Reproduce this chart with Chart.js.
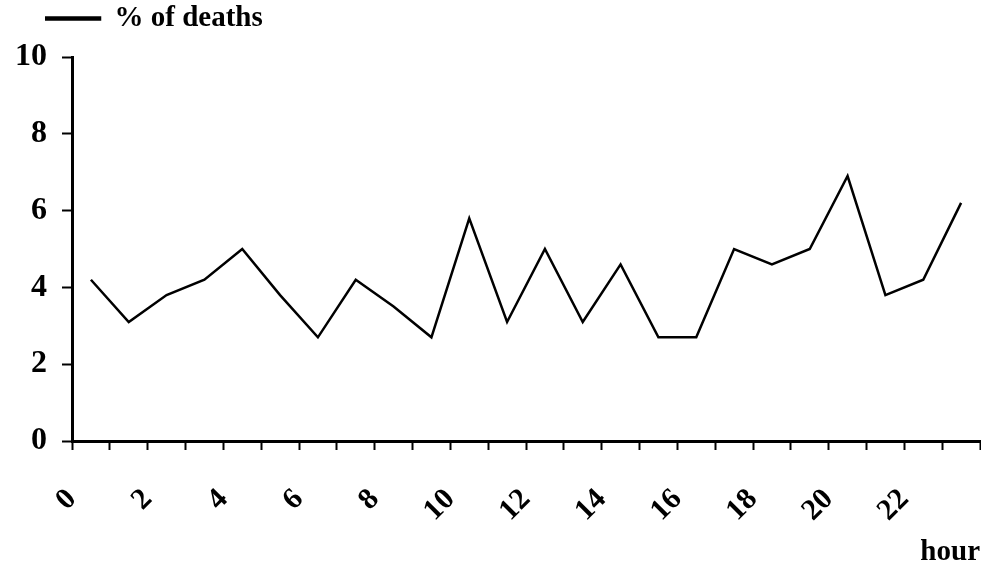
<!DOCTYPE html>
<html>
<head>
<meta charset="utf-8">
<script src="https://cdn.jsdelivr.net/npm/chart.js@4"></script>
<style>
  html, body { margin: 0; padding: 0; background: #fff; }
  #wrap { width: 981px; height: 566px; }
</style>
</head>
<body>
<div id="wrap"><canvas id="chart"></canvas></div>
<script>
// hour of day (mid-point of each hour) and share of deaths
const hourMid = [0.5, 1.5, 2.5, 3.5, 4.5, 5.5, 6.5, 7.5, 8.5, 9.5, 10.5, 11.5,
                 12.5, 13.5, 14.5, 15.5, 16.5, 17.5, 18.5, 19.5, 20.5, 21.5, 22.5, 23.5];
const pctDeaths = [4.2, 3.1, 3.8, 4.2, 5.0, 3.8, 2.7, 4.2, 3.5, 2.7, 5.8, 3.1,
                   5.0, 3.1, 4.6, 2.7, 2.7, 5.0, 4.6, 5.0, 6.9, 3.8, 4.2, 6.2];
const seriesLabel = '% of deaths';
const xTitle = 'hour';

const FONT = '"Liberation Serif", "Times New Roman", serif';

// y tick labels may spill left of the narrow y box; legend sits higher above the plot
const tweakLayout = {
  id: 'tweakLayout',
  afterLayout(chart) {
    chart.scales.y.left = 0;
    chart.legend.top -= 14;
    chart.legend.bottom -= 14;
  }
};

new Chart(document.getElementById('chart'), {
  type: 'line',
  data: {
    datasets: [{
      label: seriesLabel,
      data: hourMid.map((h, i) => ({ x: h, y: pctDeaths[i] })),
      borderColor: '#000',
      backgroundColor: '#000',
      borderWidth: 2.5,
      pointRadius: 0,
      tension: 0,
    }]
  },
  plugins: [tweakLayout],
  options: {
    responsive: true,
    maintainAspectRatio: false,
    animation: false,
    layout: { padding: { left: 45, right: 1, top: 0, bottom: 0 } },
    plugins: {
      tooltip: { enabled: false },
      legend: {
        display: true,
        position: 'top',
        align: 'start',
        labels: {
          color: '#000',
          font: { family: FONT, size: 29, weight: 'bold' },
          boxWidth: 55,
          boxHeight: 2,
          padding: 0,
        }
      }
    },
    scales: {
      x: {
        type: 'linear',
        min: 0,
        max: 24,
        afterFit: s => { s.paddingRight = 0; s.paddingLeft = 0; s.height = 125; },
        border: { color: '#000', width: 3 },
        grid: { drawOnChartArea: false, drawTicks: true, tickLength: 9, tickColor: '#000', tickWidth: 2 },
        ticks: {
          stepSize: 1,
          autoSkip: false,
          maxRotation: 45,
          minRotation: 45,
          padding: 32,
          color: '#000',
          font: { family: FONT, size: 30, weight: 'bold' },
          callback: v => (v % 2 === 0 && v < 24) ? v : '',
        },
        title: {
          display: true,
          text: xTitle,
          align: 'end',
          color: '#000',
          font: { family: FONT, size: 29, weight: 'bold' },
          padding: { top: 0, bottom: -4 },
        }
      },
      y: {
        min: 0,
        max: 10,
        afterFit: s => { s.width = 27; s.paddingTop = 57; },
        border: { color: '#000', width: 3 },
        grid: { drawOnChartArea: false, drawTicks: true, tickLength: 10, tickColor: '#000', tickWidth: 2 },
        ticks: {
          stepSize: 2,
          padding: 15,
          color: '#000',
          font: { family: FONT, size: 32, weight: 'bold' },
        }
      }
    }
  }
});
</script>
</body>
</html>
